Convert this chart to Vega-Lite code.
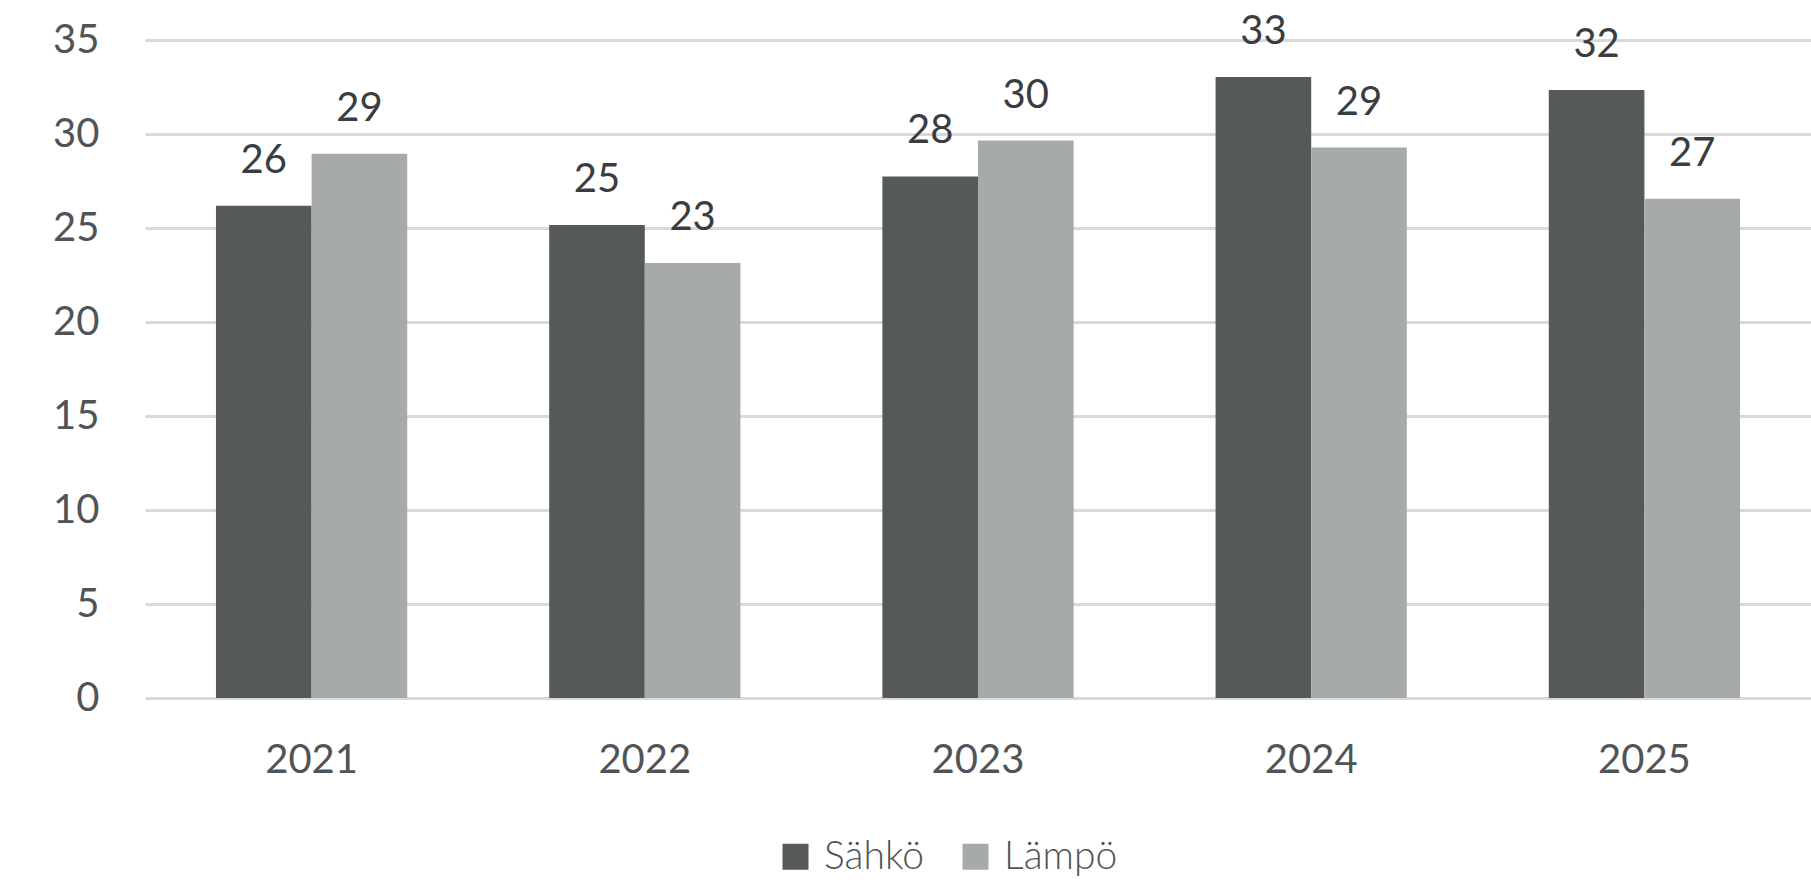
{
  "$schema": "https://vega.github.io/schema/vega-lite/v6.json",
  "autosize": "none",
  "padding": {"left": 145, "top": 40, "right": 0, "bottom": 182},
  "width": 1666,
  "height": 658,
  "background": "white",
  "config": {
    "view": {"stroke": null},
    "font": "Lato"
  },
  "data": {
    "values": [
      {"vuosi": "2021", "laji": "Sähkö", "arvo": 26.19},
      {"vuosi": "2021", "laji": "Lämpö", "arvo": 28.95},
      {"vuosi": "2022", "laji": "Sähkö", "arvo": 25.16},
      {"vuosi": "2022", "laji": "Lämpö", "arvo": 23.14},
      {"vuosi": "2023", "laji": "Sähkö", "arvo": 27.74},
      {"vuosi": "2023", "laji": "Lämpö", "arvo": 29.65},
      {"vuosi": "2024", "laji": "Sähkö", "arvo": 33.03},
      {"vuosi": "2024", "laji": "Lämpö", "arvo": 29.28},
      {"vuosi": "2025", "laji": "Sähkö", "arvo": 32.34},
      {"vuosi": "2025", "laji": "Lämpö", "arvo": 26.56}
    ]
  },
  "encoding": {
    "x": {
      "field": "vuosi", "type": "nominal",
      "scale": {"paddingInner": 0.426, "paddingOuter": 0.213},
      "axis": {
        "title": null, "labelAngle": 0, "ticks": false, "domain": false,
        "labelFontSize": 40, "labelColor": "#505456", "labelPadding": 42,
        "labelBaseline": "top"
      }
    },
    "xOffset": {
      "field": "laji", "type": "nominal",
      "sort": ["Sähkö", "Lämpö"],
      "scale": {"paddingInner": 0, "paddingOuter": 0}
    },
    "y": {
      "field": "arvo", "type": "quantitative",
      "scale": {"domain": [0, 35], "nice": false},
      "axis": {
        "title": null, "values": [0, 5, 10, 15, 20, 25, 30, 35],
        "ticks": false, "domain": false,
        "labelFontSize": 40, "labelColor": "#505456", "labelPadding": 46,
        "gridColor": "#d9d9d9", "gridWidth": 3
      }
    }
  },
  "layer": [
    {
      "mark": {"type": "bar"},
      "encoding": {
        "color": {
          "field": "laji", "type": "nominal",
          "sort": ["Sähkö", "Lämpö"],
          "scale": {"domain": ["Sähkö", "Lämpö"], "range": ["#56595a", "#a7aaab"]},
          "legend": {
            "title": null,
            "orient": "none",
            "legendX": 631,
            "legendY": 797,
            "direction": "horizontal",
            "symbolType": "square",
            "symbolSize": 676,
            "symbolStrokeWidth": 0,
            "labelFontSize": 39,
            "labelFont": "Lato",
            "labelFontWeight": 300,
            "labelColor": "#505456",
            "labelOffset": 9,
            "columnPadding": 32,
            "padding": 0
          }
        }
      }
    },
    {
      "mark": {"type": "text", "fontSize": 40, "color": "#3a3d3f", "baseline": "alphabetic", "dy": -33},
      "encoding": {
        "text": {"field": "arvo", "type": "quantitative", "format": ".0f"}
      }
    }
  ]
}
